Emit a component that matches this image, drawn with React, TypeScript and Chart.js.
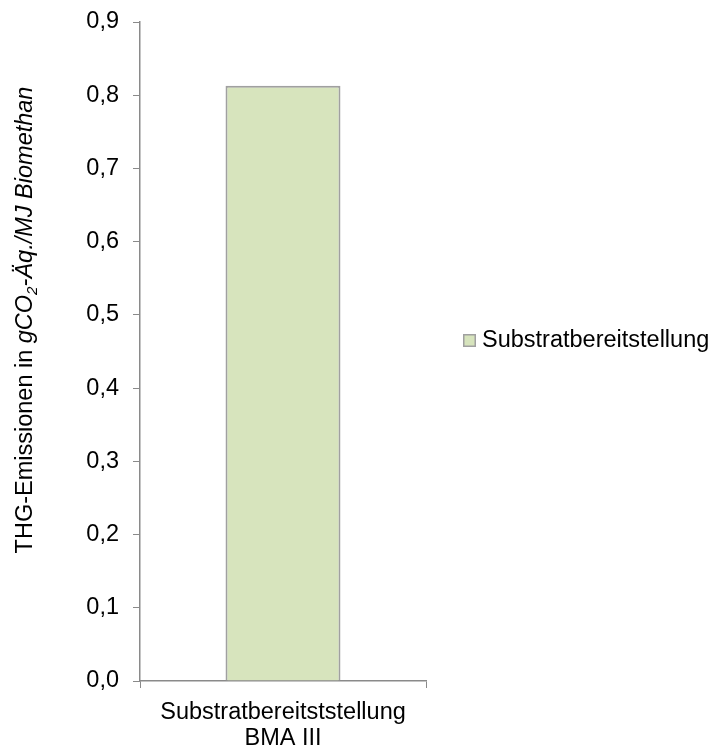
import React, { useEffect, useRef } from "react";
import { Chart, registerables } from "chart.js";

Chart.register(...registerables);

const categories: string[][] = [["Substratbereitststellung", "BMA III"]];
const seriesLabel = "Substratbereitstellung";
const seriesValues = [0.813];
const yMin = 0;
const yMax = 0.9;
const yStep = 0.1;
const yTitleNormal = "THG-Emissionen in ";
const yTitleItalicA = "gCO";
const yTitleSub = "2";
const yTitleItalicB = "-Äq./MJ Biomethan";

const FONT = "'Liberation Sans', Arial, sans-serif";
const FS = 23.5;
const BAR_FILL = "#d7e4bd";
const BAR_BORDER = "#a0a0a0";
const AXIS = "#8a8a8a";

const customPlugin = {
  id: "customDecor",
  afterDraw(chart: any) {
    const ctx = chart.ctx as CanvasRenderingContext2D;
    ctx.save();
    const normalFont = `${FS}px ${FONT}`;
    const italicFont = `italic ${FS}px ${FONT}`;
    const subFont = `italic ${FS * 0.65}px ${FONT}`;
    ctx.font = normalFont;
    const w1 = ctx.measureText(yTitleNormal).width;
    ctx.font = italicFont;
    const w2 = ctx.measureText(yTitleItalicA).width;
    ctx.font = subFont;
    const w3 = ctx.measureText(yTitleSub).width;
    ctx.font = italicFont;
    const w4 = ctx.measureText(yTitleItalicB).width;
    const total = w1 + w2 + w3 + w4;
    const cy = 320;
    const bx = 32;
    ctx.translate(bx, cy);
    ctx.rotate(-Math.PI / 2);
    ctx.fillStyle = "#000";
    ctx.textBaseline = "alphabetic";
    ctx.textAlign = "left";
    let x = -total / 2;
    ctx.font = normalFont;
    ctx.fillText(yTitleNormal, x, 0);
    x += w1;
    ctx.font = italicFont;
    ctx.fillText(yTitleItalicA, x, 0);
    x += w2;
    ctx.font = subFont;
    ctx.fillText(yTitleSub, x, 5);
    x += w3;
    ctx.font = italicFont;
    ctx.fillText(yTitleItalicB, x, 0);
    ctx.restore();

    ctx.save();
    const ds = chart.data.datasets[0];
    const lx = 463;
    const ly = 334;
    ctx.fillStyle = ds.backgroundColor;
    ctx.fillRect(lx, ly, 13, 13);
    ctx.strokeStyle = ds.borderColor;
    ctx.lineWidth = 1.5;
    ctx.strokeRect(lx + 0.75, ly + 0.75, 11.5, 11.5);
    ctx.font = normalFont;
    ctx.fillStyle = "#000";
    ctx.textBaseline = "middle";
    ctx.textAlign = "left";
    ctx.fillText(ds.label, 482, ly + 7);
    ctx.restore();
  },
};

export default function App() {
  const ref = useRef<HTMLCanvasElement | null>(null);
  useEffect(() => {
    if (!ref.current) return;
    const chart = new Chart(ref.current, {
      type: "bar",
      data: {
        labels: categories,
        datasets: [
          {
            label: seriesLabel,
            data: seriesValues,
            backgroundColor: BAR_FILL,
            borderColor: BAR_BORDER,
            borderWidth: 2,
            barPercentage: 0.402,
            categoryPercentage: 1,
          },
        ],
      },
      options: {
        responsive: false,
        animation: false,
        layout: { padding: { top: 22, right: 286, left: 0, bottom: 0 } },
        plugins: {
          legend: { display: false },
          tooltip: { enabled: false },
        },
        scales: {
          x: {
            grid: {
              drawOnChartArea: false,
              tickLength: 7,
              color: AXIS,
              offset: true,
            },
            border: { color: AXIS, width: 1.5 },
            ticks: {
              color: "#000",
              font: { family: FONT, size: FS, lineHeight: 1.12 },
              padding: 11,
              maxRotation: 0,
              autoSkip: false,
            },
            afterFit(scale: any) {
              scale.height = 66;
              scale.paddingLeft = 0;
              scale.paddingRight = 0;
              scale.paddingTop = 0;
              scale.paddingBottom = 0;
            },
          },
          y: {
            min: yMin,
            max: yMax,
            grid: {
              drawOnChartArea: false,
              tickLength: 7,
              color: AXIS,
            },
            border: { color: AXIS, width: 1.5 },
            ticks: {
              stepSize: yStep,
              color: "#000",
              font: { family: FONT, size: FS },
              padding: 14,
              callback: (v: any) => Number(v).toFixed(1).replace(".", ","),
            },
            afterFit(scale: any) {
              scale.width = 140;
              scale.paddingTop = 0;
              scale.paddingBottom = 0;
              scale.paddingLeft = 0;
              scale.paddingRight = 0;
            },
          },
        },
      },
      plugins: [customPlugin],
    });
    return () => chart.destroy();
  }, []);
  return (
    <div style={{ position: "absolute", left: 0, top: 0, width: 712, height: 747, background: "#fff" }}>
      <canvas ref={ref} width={712} height={747} style={{ display: "block" }} />
    </div>
  );
}
